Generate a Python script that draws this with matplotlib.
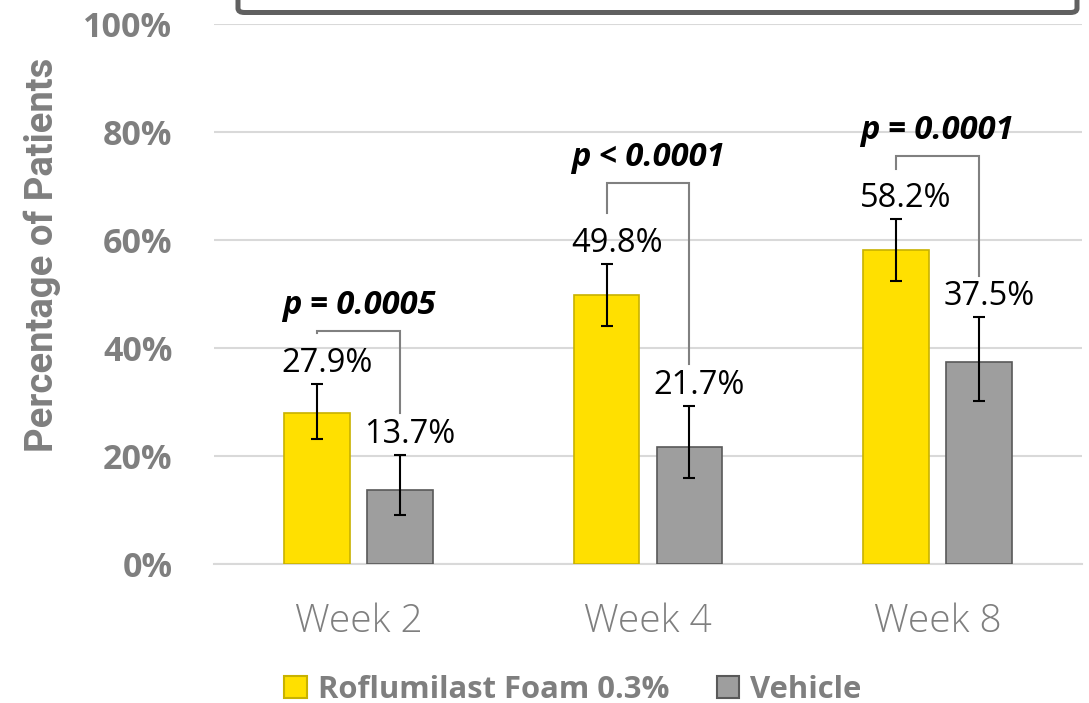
import matplotlib
matplotlib.use("Agg")
import matplotlib.pyplot as plt
from matplotlib.patches import Patch, FancyBboxPatch
import numpy as np

# response rates by visit, with 95% CI bounds (percent)
weeks = ["Week 2", "Week 4", "Week 8"]
roflu = [27.9, 49.8, 58.2]
roflu_lo = [23.1, 44.1, 52.5]
roflu_hi = [33.3, 55.6, 63.8]
vehicle = [13.7, 21.7, 37.5]
vehicle_lo = [9.1, 15.9, 30.1]
vehicle_hi = [20.2, 29.3, 45.7]
p_text = ["p = 0.0005", "p < 0.0001", "p = 0.0001"]

# height of the comparison bracket above each pair
bracket_top = [43.2, 70.6, 75.6]

YELLOW = "#FFE000"
YELLOW_EDGE = "#C8B200"
GREY = "#9E9E9E"
GREY_EDGE = "#595959"
TXT_GREY = "#7F7F7F"

plt.rcParams["font.family"] = ["Open Sans", "DejaVu Sans"]

fig = plt.figure(figsize=(10.89, 7.03), dpi=100)
ax = fig.add_axes([214 / 1089, 1 - 564 / 703, (1082 - 214) / 1089, (564 - 24) / 703])

x = np.arange(len(weeks))
w = 0.227
off = 0.143

err_r = [np.subtract(roflu, roflu_lo), np.subtract(roflu_hi, roflu)]
err_v = [np.subtract(vehicle, vehicle_lo), np.subtract(vehicle_hi, vehicle)]

ax.bar(x - off, roflu, w, color=YELLOW, edgecolor=YELLOW_EDGE, linewidth=1.2, zorder=3,
       yerr=err_r, error_kw=dict(ecolor="black", elinewidth=1.5, capsize=4.5, capthick=1.5, zorder=4))
ax.bar(x + off, vehicle, w, color=GREY, edgecolor=GREY_EDGE, linewidth=1.2, zorder=3,
       yerr=err_v, error_kw=dict(ecolor="black", elinewidth=1.5, capsize=4.5, capthick=1.5, zorder=4))

# value labels above the error bars
for i in range(len(weeks)):
    ax.text(x[i] - off + 0.035, roflu_hi[i] + 3.8, f"{roflu[i]:.1f}%", ha="center", va="center",
            fontsize=23.5, color="black", zorder=5)
    ax.text(x[i] + off + 0.035, vehicle_hi[i] + 3.8, f"{vehicle[i]:.1f}%", ha="center", va="center",
            fontsize=23.5, color="black", zorder=5)

# significance brackets
for i in range(len(weeks)):
    xl, xr = x[i] - off, x[i] + off
    ax.plot([xl, xl, xr, xr], [roflu_hi[i] + 9.4, bracket_top[i], bracket_top[i], vehicle_hi[i] + 7.7],
            color="#808080", lw=1.5, zorder=5, solid_joinstyle="miter")
    ax.text(x[i], bracket_top[i] + 4.6, p_text[i], ha="center", va="center", fontsize=23.5,
            fontweight="bold", fontstyle="italic", color="black", zorder=5)

ax.set_xlim(-0.5, 2.5)
ax.set_ylim(0, 100)
ax.set_yticks(range(0, 101, 20))
ax.set_yticklabels([f"{v}%" for v in range(0, 101, 20)], fontsize=24.5, fontweight="bold", color=TXT_GREY)
ax.set_xticks(x)
ax.set_xticklabels(weeks, fontsize=28, fontweight="light", color=TXT_GREY)
ax.tick_params(axis="both", length=0)
ax.tick_params(axis="y", pad=30)
ax.tick_params(axis="x", pad=28)
ax.grid(axis="y", color="#D9D9D9", lw=1.5, zorder=0)
for s in ["top", "right", "left"]:
    ax.spines[s].set_visible(False)
ax.spines["bottom"].set_color("#D9D9D9")
ax.spines["bottom"].set_linewidth(1.5)

fig.text(42 / 1089, 1 - 255 / 703, "Percentage of Patients", rotation=90, ha="center", va="center",
         fontsize=27.5, fontweight="bold", color=TXT_GREY, family=["Roboto", "DejaVu Sans"])

# box cut off at the top of the slide
box = FancyBboxPatch((238 / 1089, 1 - 12.5 / 703), (1077 - 238) / 1089, 0.1,
                     boxstyle="round,pad=0,rounding_size=0.006", transform=fig.transFigure,
                     facecolor="white", edgecolor="#606060", linewidth=3.6, clip_on=False)
fig.patches.append(box)

handles = [Patch(facecolor=YELLOW, edgecolor=YELLOW_EDGE, linewidth=1.5, label="Roflumilast Foam 0.3%"),
           Patch(facecolor=GREY, edgecolor=GREY_EDGE, linewidth=1.5, label="Vehicle")]
leg = fig.legend(handles=handles, loc="center", bbox_to_anchor=(573 / 1089, 1 - 690 / 703), ncol=2,
                 frameon=False, handlelength=0.72, handleheight=0.72, handletextpad=0.35, columnspacing=1.55,
                 prop=dict(size=22.3, weight="bold"))
for t in leg.get_texts():
    t.set_color(TXT_GREY)

fig.savefig("out.png", dpi=100)
